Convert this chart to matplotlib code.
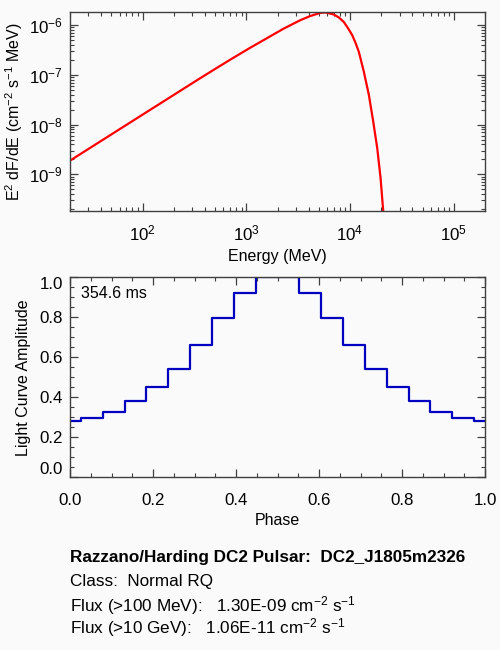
import matplotlib
matplotlib.use("Agg")
import matplotlib.pyplot as plt
from matplotlib.ticker import (FixedLocator, LogLocator, LogFormatterSciNotation,
                               MultipleLocator, NullFormatter)

plt.rcParams['font.family'] = ['Liberation Sans', 'DejaVu Sans']
plt.rcParams['mathtext.fontset'] = 'custom'
plt.rcParams['mathtext.rm'] = 'Liberation Sans'
plt.rcParams['mathtext.it'] = 'Liberation Sans:italic'
plt.rcParams['mathtext.bf'] = 'Liberation Sans:bold'

# spectrum (MeV, E^2 dF/dE)
energy = [20, 100, 358, 520, 752, 1091, 1582, 2290, 3320, 4150, 5190, 5800,
          6240, 6970, 7800, 8710, 9530, 10500, 11300, 12160, 13600, 15200,
          16750, 18300, 19700, 20900, 21300]
sed = [1.88e-9, 1.58e-8, 8.51e-8, 1.38e-7, 2.21e-7, 3.51e-7, 5.47e-7, 8.51e-7,
       1.26e-6, 1.53e-6, 1.77e-6, 1.80e-6, 1.74e-6, 1.64e-6, 1.43e-6, 1.16e-6,
       8.8e-7, 6.3e-7, 4.4e-7, 2.91e-7, 1.15e-7, 3.93e-8, 1.14e-8, 3.34e-9,
       8.4e-10, 1.8e-10, 1.0e-10]
e_ticks = [1e2, 1e3, 1e4, 1e5]
sed_ticks = [1e-9, 1e-8, 1e-7, 1e-6]

# light curve, 20 phase points k/19
phase = [k / 19 for k in range(20)]
amp = [0.283, 0.298, 0.328, 0.380, 0.452, 0.543, 0.662, 0.798, 0.920, 1.0,
       1.0, 0.920, 0.798, 0.662, 0.543, 0.452, 0.380, 0.328, 0.298, 0.283]
ph_ticks = [0, 0.2, 0.4, 0.6, 0.8, 1.0]
ph_labels = ['0.0', '0.2', '0.4', '0.6', '0.8', '1.0']

period_txt = '354.6 ms'
info = ['Razzano/Harding DC2 Pulsar:  DC2_J1805m2326',
        'Class:  Normal RQ',
        r'Flux (>100 MeV):   1.30E-09 cm$^{-2}$ s$^{-1}$',
        r'Flux (>10 GeV):   1.06E-11 cm$^{-2}$ s$^{-1}$']

bg = '#fafafa'
axc = '#404040'
fs = 11.5
tfs = 12.2

fig = plt.figure(figsize=(5, 6.5), dpi=100, facecolor=bg)


def style(ax, xpad):
    ax.set_facecolor(bg)
    for s in ax.spines.values():
        s.set_color(axc)
        s.set_linewidth(1.0)
    ax.tick_params(which='both', direction='in', top=True, right=True,
                   color=axc, labelsize=tfs, labelcolor='black')
    ax.tick_params(which='major', length=6, width=0.9, pad=5)
    ax.tick_params(axis='x', which='major', pad=xpad)
    ax.tick_params(which='minor', length=3, width=0.8)


# --- spectrum ---
ax1 = fig.add_axes([0.14, 0.675, 0.83, 0.3058])
style(ax1, 9)
ax1.plot(energy, sed, color='#ff0000', lw=1.6)
ax1.set_xscale('log')
ax1.set_yscale('log')
ax1.set_xlim(20, 2e5)
ax1.set_ylim(1.8e-10, 1.8e-6)
ax1.xaxis.set_major_locator(FixedLocator(e_ticks))
ax1.yaxis.set_major_locator(FixedLocator(sed_ticks))
ax1.xaxis.set_major_formatter(LogFormatterSciNotation())
ax1.yaxis.set_major_formatter(LogFormatterSciNotation())
ax1.xaxis.set_minor_locator(LogLocator(base=10, subs=range(2, 10), numticks=20))
ax1.yaxis.set_minor_locator(LogLocator(base=10, subs=range(2, 10), numticks=20))
ax1.xaxis.set_minor_formatter(NullFormatter())
ax1.yaxis.set_minor_formatter(NullFormatter())
ax1.set_xlabel('Energy (MeV)', fontsize=fs, labelpad=4)
ax1.set_ylabel(r'E$^{2}$ dF/dE (cm$^{-2}$ s$^{-1}$ MeV)', fontsize=fs, labelpad=3)

# --- light curve ---
ax2 = fig.add_axes([0.14, 0.2657, 0.83, 0.3077])
style(ax2, 11)
ax2.step(phase, amp, where='mid', color='#0000c0', lw=1.6)
ax2.set_xlim(0, 1)
ax2.set_ylim(0, 1.0)
ax2.set_xticks(ph_ticks)
ax2.set_yticks(ph_ticks)
ax2.xaxis.set_minor_locator(MultipleLocator(0.05))
ax2.yaxis.set_minor_locator(MultipleLocator(0.05))
ax2.set_xticklabels(ph_labels)
ax2.set_yticklabels(ph_labels)
ylab = ax2.get_yticklabels()
ylab[0].set_va('bottom')
ylab[-1].set_va('top')
ax2.set_xlabel('Phase', fontsize=fs, labelpad=4)
ax2.set_ylabel('Light Curve Amplitude', fontsize=fs, labelpad=6)
ax2.text(0.026, 0.92, period_txt, transform=ax2.transAxes, fontsize=fs,
         ha='left', va='center')

# --- info text ---
ys = [0.142, 0.105, 0.068, 0.034]
for i, (t, y) in enumerate(zip(info, ys)):
    fig.text(0.14, y, t, fontsize=12.3, ha='left', va='center',
             fontweight='bold' if i == 0 else 'normal')

fig.savefig('out.png', dpi=100, facecolor=bg)
